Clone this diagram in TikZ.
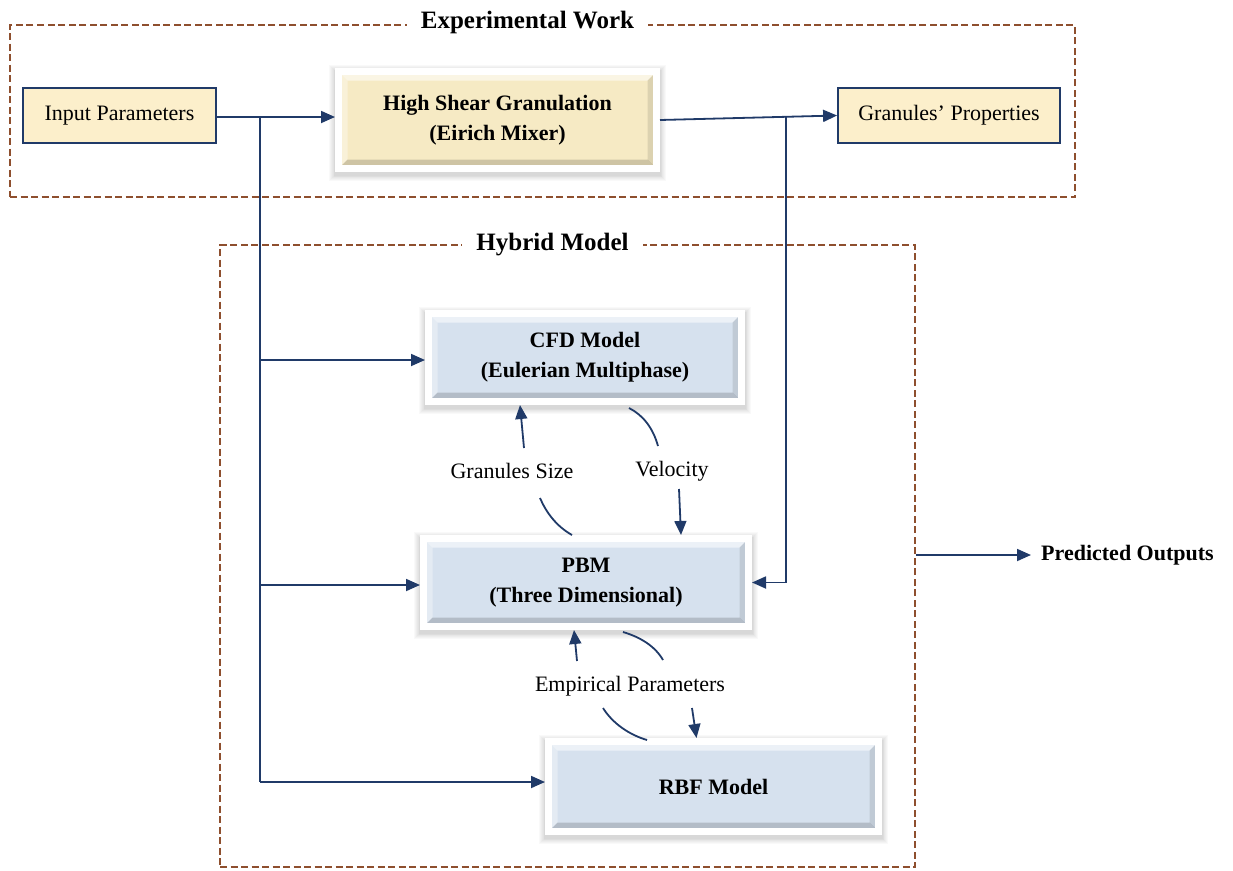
\documentclass[tikz,border=0pt]{standalone}
\usepackage{fontspec}
\setmainfont{Liberation Serif}
\usetikzlibrary{arrows.meta,calc}
\definecolor{navy}{HTML}{203A68}
\definecolor{dbrown}{HTML}{8E4F2E}
\definecolor{cream}{HTML}{FCEFCB}
\definecolor{sand}{HTML}{F6EAC4}
\definecolor{pblue}{HTML}{D6E1EE}
\newcommand{\fsN}{\fontsize{22}{30}\selectfont}
\newcommand{\fsT}{\fontsize{25}{29}\selectfont}
\tikzset{
  dashbox/.style={draw=dbrown, line width=1.6pt, dash pattern=on 7pt off 3.5pt, rectangle, inner sep=0pt},
  title/.style={fill=white, font=\bfseries\fsT, inner xsep=14pt, inner ysep=2pt},
  plainbox/.style={draw=navy, line width=1.8pt, fill=cream, rectangle, font=\fsN, inner sep=0pt},
  shl/.style={preaction={draw=black, draw opacity=0.022, line width=#1, transform canvas={yshift=-3pt}}},
  bevelbox/.style={rectangle, draw=white, line width=7pt, fill=#1, inner sep=0pt,
    font=\bfseries\fsN, align=center,
    shl=19pt, shl=17pt, shl=15pt, shl=13pt, shl=11.5pt, shl=10pt, shl=9pt,
    path picture={
      \fill[white,opacity=0.55] (path picture bounding box.north west) -- (path picture bounding box.north east)
        -- ([xshift=-9pt,yshift=-9pt]path picture bounding box.north east)
        -- ([xshift=9pt,yshift=-9pt]path picture bounding box.north west) -- cycle;
      \fill[white,opacity=0.35] (path picture bounding box.north west) -- (path picture bounding box.south west)
        -- ([xshift=9pt,yshift=9pt]path picture bounding box.south west)
        -- ([xshift=9pt,yshift=-9pt]path picture bounding box.north west) -- cycle;
      \fill[black,opacity=0.16] (path picture bounding box.south west) -- (path picture bounding box.south east)
        -- ([xshift=-9pt,yshift=9pt]path picture bounding box.south east)
        -- ([xshift=9pt,yshift=9pt]path picture bounding box.south west) -- cycle;
      \fill[black,opacity=0.10] (path picture bounding box.north east) -- (path picture bounding box.south east)
        -- ([xshift=-9pt,yshift=9pt]path picture bounding box.south east)
        -- ([xshift=-9pt,yshift=-9pt]path picture bounding box.north east) -- cycle;
    }},
  lbl/.style={font=\fsN, inner sep=1pt},
  conn/.style={draw=navy, line width=1.8pt},
  arr/.style={conn, -{Triangle[length=14pt,width=12pt]}}
}
\begin{document}
\begin{tikzpicture}[x=1pt,y=-1pt]
\useasboundingbox (0,0) rectangle (1233,870);

% frames
\node[dashbox, minimum width=1065, minimum height=172] (exp) at (542.5,111) {};
\node[title] (expt) at (527.5,22) {Experimental Work};
\node[dashbox, minimum width=695, minimum height=622] (hyb) at (567.5,556) {};
\node[title] (hybt) at (552.5,245) {Hybrid Model};

% boxes
\node[plainbox, minimum width=193, minimum height=55] (inp) at (119.5,115.5) {Input Parameters};
\node[plainbox, minimum width=222, minimum height=55] (gp) at (949,115.5) {Granules’ Properties};
\node[bevelbox=sand, minimum width=318, minimum height=97] (hs) at (497.5,120) {\raisebox{-3pt}{High Shear Granulation}\\\raisebox{-3pt}{(Eirich  Mixer)}};
\node[bevelbox=pblue, minimum width=313, minimum height=88] (cfd) at (585,357.5) {CFD Model\\(Eulerian  Multiphase)};
\node[bevelbox=pblue, minimum width=325, minimum height=88] (pbm) at (586,582.5) {PBM\\(Three  Dimensional)};
\node[bevelbox=pblue, minimum width=330, minimum height=90] (rbf) at (713.5,786.5) {RBF Model};

% labels
\node[lbl] (gs) at (512,471) {Granules Size};
\node[lbl] (vel) at (672,471) {Velocity};
\node[lbl] (emp) at (630,686) {Empirical Parameters};
\node[font=\bfseries\fsN, anchor=west, inner sep=0pt] (po) at (1041,555) {Predicted Outputs};

% top row connectors
\coordinate (j1) at (260,117);
\draw[arr] (inp.east |- j1) -- (hs.west |- j1);
\coordinate (j2) at ($(hs.east)!0.71!(gp.west)$);
\draw[arr] (hs.east) -- (gp.west);

% left trunk
\coordinate (t1) at (260,360);
\coordinate (t2) at (260,585);
\coordinate (t3) at (260,782);
\draw[conn] (j1) -- (t3);
\draw[arr] (t1) -- (cfd.west |- t1);
\draw[arr] (t2) -- (pbm.west |- t2);
\draw[arr] (t3) -- (rbf.west |- t3);

% right trunk
\coordinate (r1) at (j2 |- pbm.east);
\draw[conn] (j2) -- (r1);
\draw[arr] (r1) -- (pbm.east);

% predicted outputs
\draw[arr] (hyb.east |- po.west) -- ([xshift=-10pt]po.west);

% cycle CFD <-> PBM
\coordinate (g1) at (572,535);
\coordinate (g2) at (540,498);
\draw[conn] (g1) .. controls (556,526) and (546,512) .. (g2);
\draw[arr] (524,448) -- ($(cfd.south)+(-65,0)$);
\coordinate (v1) at (629,408);
\coordinate (v2) at (658,446);
\draw[conn] (v1) .. controls (643,415) and (653,428) .. (v2);
\draw[arr] (679,489) -- ($(pbm.north)+(95,0)$);

% cycle PBM <-> RBF
\draw[arr] (577,661) -- ($(pbm.south)+(-12,0)$);
\coordinate (e1) at (623,632);
\coordinate (e2) at (663,660);
\draw[conn] (e1) .. controls (640,637) and (655,646) .. (e2);
\coordinate (e3) at (603,708);
\coordinate (e4) at (647,740);
\draw[conn] (e3) .. controls (613,724) and (630,735) .. (e4);
\draw[arr] (692,708) -- ($(rbf.north)+(-17,0)$);
\end{tikzpicture}
\end{document}
